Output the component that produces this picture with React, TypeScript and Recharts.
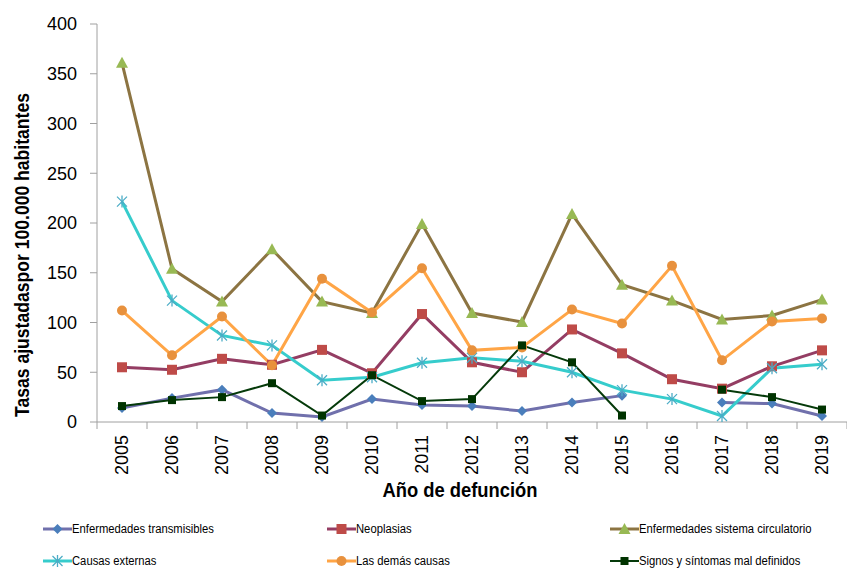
import { CartesianGrid, Label, Line, LineChart, XAxis, YAxis } from "recharts";

const years = ["2005", "2006", "2007", "2008", "2009", "2010", "2011", "2012", "2013", "2014", "2015", "2016", "2017", "2018", "2019"];
const transmisibles = [14, 24, 32.5, 9, 5, 23, 17, 16, 11, 19.5, 26.5, null, 19.5, 18.5, 6];
const neoplasias = [55, 52.5, 63.5, 57.5, 72.5, 49, 108.5, 60, 50, 93, 69, 43, 33.5, 56, 72];
const circulatorio = [361, 154, 121, 173.5, 121, 109.5, 199, 109.5, 100.5, 209, 138, 122, 103, 107, 123];
const externas = [221.5, 122, 87, 77, 42, 45, 59.5, 64.5, 61, 50, 32, 23, 6, 54, 58];
const demas = [112, 67, 106, 57, 144, 110, 154.5, 72, 75, 113, 99, 157, 62, 101, 104];
const signos = [16, 22, 25, 39, 6.5, 47, 21, 23, 77, 60, 6.5, null, 32.5, 25, 12.5];
const yTicks = [0, 50, 100, 150, 200, 250, 300, 350, 400];

const series = [
  { key: "t", name: "Enfermedades transmisibles", values: transmisibles, line: "#7070AC", marker: "#4A7EBB", shape: "diamond", width: 3 },
  { key: "n", name: "Neoplasias", values: neoplasias, line: "#943D63", marker: "#BE4B48", shape: "square", width: 3 },
  { key: "c", name: "Enfermedades sistema circulatorio", values: circulatorio, line: "#8C7442", marker: "#98B954", shape: "triangle", width: 3 },
  { key: "e", name: "Causas externas", values: externas, line: "#36CCCC", marker: "#4BACC6", shape: "star", width: 3 },
  { key: "d", name: "Las demás causas", values: demas, line: "#FFA546", marker: "#E8913D", shape: "circle", width: 3 },
  { key: "s", name: "Signos y síntomas mal definidos", values: signos, line: "#053A0A", marker: "#003300", shape: "smallsquare", width: 2 },
];

const data = years.map((y, i) => {
  const row: any = { year: y };
  series.forEach((s) => (row[s.key] = s.values[i]));
  return row;
});

const sans = "'Liberation Sans', Arial, sans-serif";

function Marker({ cx, cy, shape, color }: any) {
  if (cx == null || cy == null || isNaN(cy)) return null;
  if (shape === "diamond")
    return <polygon points={`${cx},${cy - 5} ${cx + 5},${cy} ${cx},${cy + 5} ${cx - 5},${cy}`} fill={color} />;
  if (shape === "square") return <rect x={cx - 5} y={cy - 5} width={10} height={10} fill={color} />;
  if (shape === "smallsquare") return <rect x={cx - 4} y={cy - 4} width={8} height={8} fill={color} />;
  if (shape === "triangle")
    return <polygon points={`${cx},${cy - 6} ${cx + 6},${cy + 5} ${cx - 6},${cy + 5}`} fill={color} />;
  if (shape === "circle") return <circle cx={cx} cy={cy} r={5} fill={color} />;
  return (
    <g stroke={color} strokeWidth={1.3}>
      <line x1={cx - 5} y1={cy - 5} x2={cx + 5} y2={cy + 5} />
      <line x1={cx - 5} y1={cy + 5} x2={cx + 5} y2={cy - 5} />
      <line x1={cx} y1={cy - 6} x2={cx} y2={cy + 6} />
    </g>
  );
}

function YearTick(props: any) {
  const { x, y, payload, index } = props;
  const half = payload.offset || 25;
  return (
    <g>
      <line x1={x - half} y1={y} x2={x - half} y2={y + 7} stroke="#A0A0A0" />
      {index === years.length - 1 && <line x1={x + half} y1={y} x2={x + half} y2={y + 7} stroke="#A0A0A0" />}
      <text
        x={x}
        y={y + 13}
        transform={`rotate(-90, ${x}, ${y + 13})`}
        textAnchor="end"
        dy="0.36em"
        fontSize={18}
        fontFamily={sans}
        fill="#000"
      >
        {payload.value}
      </text>
    </g>
  );
}

function YTitle({ viewBox }: any) {
  const x = viewBox.x + 29;
  const y = viewBox.y + viewBox.height / 2 + 32;
  return (
    <text
      x={x}
      y={y}
      transform={`rotate(-90, ${x}, ${y})`}
      textAnchor="middle"
      fontSize={20}
      fontWeight="bold"
      fontFamily={sans}
      textLength={324}
      lengthAdjust="spacingAndGlyphs"
      fill="#000"
    >
      Tasas ajustadaspor 100.000 habitantes
    </text>
  );
}

function XTitle({ viewBox }: any) {
  return (
    <text
      x={viewBox.x + viewBox.width / 2 - 12}
      y={viewBox.y + 75}
      textAnchor="middle"
      fontSize={20}
      fontWeight="bold"
      fontFamily={sans}
      textLength={155}
      lengthAdjust="spacingAndGlyphs"
      fill="#000"
    >
      Año de defunción
    </text>
  );
}

export default function App() {
  return (
    <div style={{ position: "absolute", left: 0, top: 0, width: 847, height: 570, background: "#fff", overflow: "hidden" }}>
      <LineChart width={847} height={570} data={data} margin={{ top: 24, right: 0, bottom: 68, left: 0 }}>
        <CartesianGrid stroke="none" />
        <XAxis
          dataKey="year"
          scale="band"
          height={80}
          stroke="#A0A0A0"
          tickSize={0}
          tickMargin={0}
          tickLine={false}
          interval={0}
          tick={<YearTick />}
        >
          <Label content={<XTitle />} />
        </XAxis>
        <YAxis
          width={97}
          domain={[0, 400]}
          ticks={yTicks}
          stroke="#A0A0A0"
          tickSize={7}
          tickMargin={13}
          tick={{ fontSize: 18, fontFamily: sans, fill: "#000" }}
        >
          <Label content={<YTitle />} />
        </YAxis>
        {series.map((s) => (
          <Line
            key={s.key}
            dataKey={s.key}
            name={s.name}
            stroke={s.line}
            strokeWidth={s.width}
            type="linear"
            connectNulls={false}
            isAnimationActive={false}
            dot={(p: any) => <Marker key={p.index} cx={p.cx} cy={p.cy} shape={s.shape} color={s.marker} />}
            activeDot={false}
          />
        ))}
      </LineChart>
      {series.map((s, i) => {
        const col = i % 3;
        const row = Math.floor(i / 3);
        const left = [43, 327, 610][col];
        const top = [529, 561][row];
        return (
          <div key={s.key} style={{ position: "absolute", left, top: top - 8, height: 16, display: "flex", alignItems: "center" }}>
            <svg width={29} height={16}>
              <line x1={0} y1={8} x2={29} y2={8} stroke={s.line} strokeWidth={s.width} />
              <Marker cx={14.5} cy={8} shape={s.shape} color={s.marker} />
            </svg>
            <span
              style={{
                fontFamily: sans,
                fontSize: 12.5,
                lineHeight: "16px",
                color: "#000",
                whiteSpace: "nowrap",
                display: "inline-block",
                transform: "scaleX(0.9)",
                transformOrigin: "left center",
              }}
            >
              {s.name}
            </span>
          </div>
        );
      })}
    </div>
  );
}
